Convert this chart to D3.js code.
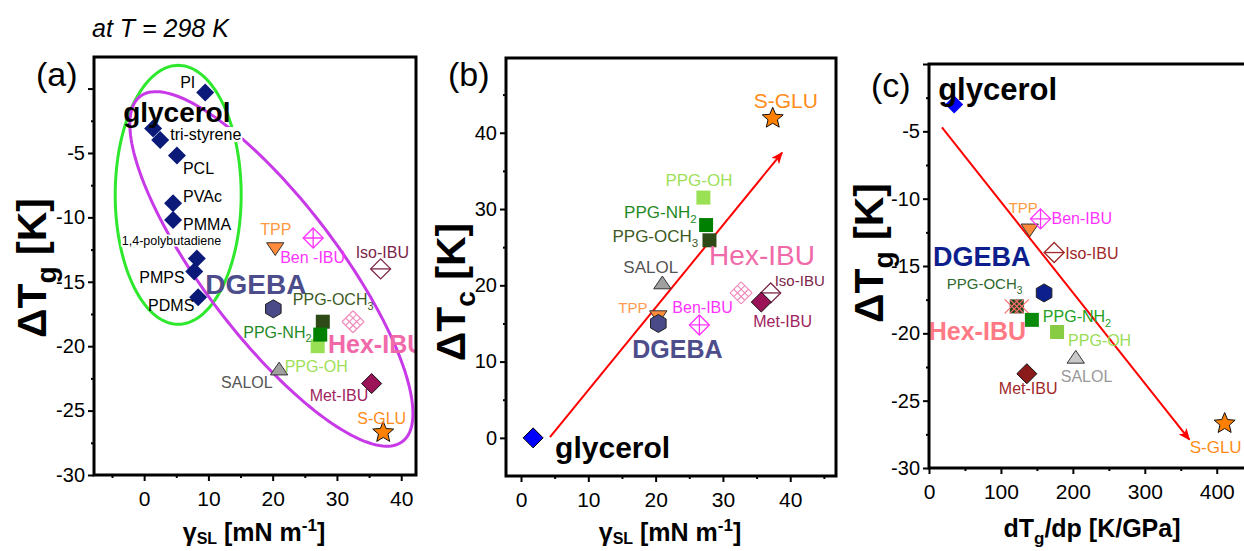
<!DOCTYPE html>
<html><head><meta charset="utf-8">
<script src="https://cdn.jsdelivr.net/npm/d3@7"></script>
<style>body{margin:0;background:#fff}svg{display:block}</style>
</head><body>
<svg id="c" width="1244" height="551"></svg>
<script>
// ---------------- DATA ----------------
// Panel (a): polymers (navy diamonds)
const polymerNames   = ["PI","glycerol","tri-styrene","PCL","PVAc","PMMA","1,4-polybutadiene","PMPS","PDMS"];
const polymerGammaSL = [9.5, 1.4, 2.5, 5.1, 4.5, 4.5, 8.2, 7.8, 8.4];
const polymerDeltaTg = [-0.3, -3.1, -4.0, -5.2, -8.9, -10.2, -13.2, -14.2, -16.2];

// Panel (a): low-molecular compounds
const compoundNames   = ["TPP","Ben-IBU","Iso-IBU","DGEBA","PPG-OCH3","PPG-OH","PPG-NH2","Hex-IBU","SALOL","Met-IBU","S-GLU"];
const compoundGammaSL = [20.4, 26.3, 36.8, 20.1, 27.8, 27.0, 27.4, 32.5, 21.0, 35.4, 37.2];
const compoundDeltaTg = [-12.3, -11.6, -14.0, -17.1, -18.1, -20.0, -19.1, -18.1, -21.9, -22.9, -26.7];

// Panel (b)
const namesB    = ["glycerol","TPP","DGEBA","SALOL","Ben-IBU","PPG-OH","PPG-NH2","PPG-OCH3","Hex-IBU","Iso-IBU","Met-IBU","S-GLU"];
const gammaSL_B = [1.8, 20.4, 20.4, 21.0, 26.5, 27.1, 27.5, 28.0, 32.7, 37.1, 35.7, 37.4];
const deltaTc_B = [0.0, 16.1, 15.0, 20.1, 14.8, 31.5, 27.9, 25.9, 19.0, 19.0, 17.8, 41.9];

// Panel (c)
const namesC    = ["glycerol","TPP","Ben-IBU","Iso-IBU","DGEBA","PPG-OCH3","Hex-IBU","PPG-NH2","PPG-OH","SALOL","Met-IBU","S-GLU"];
const dTgdp_C   = [35, 140, 155, 174, 160, 122, 122, 143, 178, 204, 136, 411];
const deltaTg_C = [-3.0, -12.2, -11.5, -14.0, -17.0, -18.0, -18.0, -19.0, -19.9, -21.9, -23.0, -26.7];

// Trend arrows (data units: [x0,y0,x1,y1])
const arrowB = [4.3, 0.1, 38.8, 37.4];
const arrowC = [18, -4.7, 362, -27.9];

// Ellipses in panel (a): centre, first and second semi-axis vectors (data units)
const ellipseGreen   = [5.3, -8.25, 9.8, 0, 0, 10.05];
const ellipseMagenta = [19.8, -14.0, 20.4, -13.4, -8.3, -3.14];

// Ticks
const ticksA_x = [0,10,20,30,40],            minorA_x = [-5,5,15,25,35];
const ticksA_y = [-30,-25,-20,-15,-10,-5,0], minorA_y = [-27.5,-22.5,-17.5,-12.5,-7.5,-2.5];
const ticksB_x = [0,10,20,30,40],            minorB_x = [5,15,25,35,45];
const ticksB_y = [0,10,20,30,40],            minorB_y = [5,15,25,35,45];
const ticksC_x = [0,100,200,300,400],        minorC_x = [50,150,250,350];
const ticksC_y = [-30,-25,-20,-15,-10,-5,0], minorC_y = [-27.5,-22.5,-17.5,-12.5,-7.5,-2.5];

// ---------------- STYLE ----------------
const FONT = '"Liberation Sans", Arial, Helvetica, sans-serif';
const svg = d3.select("#c");
svg.append("defs").append("marker").attr("id","arr")
  .attr("viewBox","0 0 12 10").attr("refX",11).attr("refY",5)
  .attr("markerWidth",13).attr("markerHeight",10).attr("markerUnits","userSpaceOnUse")
  .attr("orient","auto")
  .append("path").attr("d","M0,0L12,5L0,10L3,5Z").attr("fill","#ff0000");

const navy = "#0b1a78";
const subParts = {"PPG-OCH3":["PPG-OCH","3"], "PPG-NH2":["PPG-NH","2"]};

const markerA = {
  "TPP":{shape:"triDown",r:10,fill:"#ff8c3a",stroke:"#333"},
  "Ben-IBU":{shape:"diamondPlus",r:10,stroke:"#ff33ff"},
  "Iso-IBU":{shape:"diamondLine",r:10,stroke:"#7b2648"},
  "DGEBA":{shape:"hexagon",r:9,fill:"#4a4a88",stroke:"#222"},
  "PPG-OCH3":{shape:"square",r:7,fill:"#2e4a17"},
  "PPG-NH2":{shape:"square",r:7,fill:"#008000"},
  "PPG-OH":{shape:"square",r:7,fill:"#99e055"},
  "Hex-IBU":{shape:"hatch",r:11,stroke:"#f28cbc"},
  "SALOL":{shape:"triUp",r:10,fill:"#a0a0a0",stroke:"#333"},
  "Met-IBU":{shape:"diamond",r:10,fill:"#9b1458",stroke:"#111"},
  "S-GLU":{shape:"star",r:11,fill:"#ff8000",stroke:"#111"},
  "glycerol":{shape:"diamond",r:10,fill:"#0000ff",stroke:"#000"}
};
const markerC = Object.assign({}, markerA, {
  "DGEBA":{shape:"hexagon",r:9,fill:"#0d1f8c",stroke:"#222"},
  "Met-IBU":{shape:"diamond",r:10,fill:"#8b1a1a",stroke:"#111"},
  "Iso-IBU":{shape:"diamondLine",r:10,stroke:"#a02828"},
  "PPG-OCH3":{shape:"square",r:7,fill:"#1f4a1f"},
  "PPG-NH2":{shape:"square",r:7,fill:"#0a8a0a"},
  "PPG-OH":{shape:"square",r:7,fill:"#88cc44"},
  "Hex-IBU":{shape:"hatchX",r:10,stroke:"#ff6a6a"},
  "SALOL":{shape:"triUp",r:10,fill:"#c8c8c8",stroke:"#333"},
  "glycerol":{shape:"diamond",r:9,fill:"#0000ff",stroke:"none"}
});

// Label layouts: [dx, dy, size, colour, bold, text, whiteBackground]
const labelA = {
  "PI":[-25,-4,16,"#000"], "glycerol":[-30,-6,28,"#000",true],
  "tri-styrene":[10,0,16,"#000",false,null,true], "PCL":[6,18,16,"#000"],
  "PVAc":[10,-1,16,"#000"], "PMMA":[10,10,16,"#000"],
  "1,4-polybutadiene":[-75,-14,12.5,"#000",false,null,true],
  "PMPS":[-55,12,16,"#000"], "PDMS":[-50,14,16,"#000"],
  "TPP":[-15,-12,16,"#ff9940"], "Ben-IBU":[-33,25,16,"#ff33ff",false,"Ben -IBU"],
  "Iso-IBU":[-25,-11,16,"#7b2648"], "DGEBA":[-68,-15,28,"#4d4d8c",true],
  "PPG-OCH3":[-30,-17,16,"#3d5a1f"], "PPG-NH2":[-77,3,16,"#1f8a1f"],
  "PPG-OH":[-33,26,16,"#9ee05a"], "Hex-IBU":[-25,31,25,"#f06aaa",true],
  "SALOL":[-58,17,16,"#555"], "Met-IBU":[-62,17,16,"#a0245e"], "S-GLU":[-26,-8,16,"#ff8c1a"]
};
const labelB = {
  "glycerol":[22,20,30,"#000",true], "S-GLU":[-19,-10,21,"#ff8c1a"],
  "PPG-OH":[-38,-12,17,"#9ee05a"], "PPG-NH2":[-82,-7,17,"#1f8a1f"],
  "PPG-OCH3":[-97,2,17,"#3d5a1f"], "SALOL":[-39,-12,17,"#555"],
  "TPP":[-40,-2,15,"#ff9a50"], "DGEBA":[-26,35,25,"#4d4d8c",true],
  "Ben-IBU":[-27,-12,16,"#ff33ff"], "Hex-IBU":[-32,-28,28,"#f06aaa"],
  "Iso-IBU":[4,-7,15,"#7b2648"], "Met-IBU":[-8,25,16,"#a0245e"]
};
const labelC = {
  "glycerol":[-16,-4,31,"#000",true], "TPP":[-21,-15,15,"#ff9940"],
  "Ben-IBU":[11,5,16,"#ff33ff"], "Iso-IBU":[11,6,16,"#a02828"],
  "DGEBA":[-111,-27,27,"#0d1f8c",true], "PPG-OCH3":[-70,-17,15,"#2f6a2f"],
  "Hex-IBU":[-88,34,25,"#ff7a85",true], "PPG-NH2":[11,2,16,"#22a022"],
  "PPG-OH":[11,14,16,"#99dd55"], "SALOL":[-15,23,16,"#999"],
  "Met-IBU":[-28,20,16,"#a02828"], "S-GLU":[-35,29,17,"#ff8c1a"]
};

// ---------------- HELPERS ----------------
function drawMarker(g, cx, cy, st) {
  const r = st.r;
  const dia = `M${cx},${cy-r}L${cx+r},${cy}L${cx},${cy+r}L${cx-r},${cy}Z`;
  const add = (d, fill, stroke, sw) => g.append("path").attr("d", d)
      .attr("fill", fill).attr("stroke", stroke || "none").attr("stroke-width", sw || 1)
      .attr("stroke-linejoin","miter");
  switch (st.shape) {
    case "diamond": add(dia, st.fill, st.stroke); break;
    case "square": add(`M${cx-r},${cy-r}h${2*r}v${2*r}h${-2*r}Z`, st.fill); break;
    case "hexagon": {
      const p = d3.range(6).map(k => { const a = -Math.PI/2 + k*Math.PI/3; return [cx + r*Math.cos(a), cy + r*Math.sin(a)]; });
      add("M" + p.join("L") + "Z", st.fill, st.stroke); break; }
    case "triDown": case "triUp": {
      const s = st.shape === "triUp" ? -1 : 1;
      const p = [0, 2, 4].map(k => { const a = s*Math.PI/2 + k*2*Math.PI/3; return [cx + r*Math.cos(a), cy + r*Math.sin(a)*0.85]; });
      add("M" + p.join("L") + "Z", st.fill, st.stroke); break; }
    case "star": {
      const p = d3.range(10).map(k => { const rr = k % 2 ? r*0.45 : r; const a = -Math.PI/2 + k*Math.PI/5; return [cx + rr*Math.cos(a), cy + rr*Math.sin(a)]; });
      add("M" + p.join("L") + "Z", st.fill, st.stroke); break; }
    case "diamondPlus":
      add(dia, "none", st.stroke, 1.3);
      add(`M${cx-r},${cy}H${cx+r}M${cx},${cy-r}V${cy+r}`, "none", st.stroke, 1.3); break;
    case "diamondLine":
      add(dia, "#fff", st.stroke, 1.3);
      add(`M${cx-r},${cy}H${cx+r}`, "none", st.stroke, 1.3); break;
    case "hatch": {
      let d = "";
      for (const f of [0, 1/3, 2/3, 1]) {
        d += `M${cx - r + f*r},${cy - f*r}L${cx + f*r},${cy + r - f*r}`;
        d += `M${cx + r - f*r},${cy - f*r}L${cx - f*r},${cy + r - f*r}`;
      }
      add(d, "none", st.stroke, 1.2); break; }
    case "hatchX": {
      let d = "";
      for (const o of [-r*0.5, 0, r*0.5]) {
        d += `M${cx - r*0.7 + o},${cy - r*0.7}L${cx + r*0.7 + o},${cy + r*0.7}`;
        d += `M${cx + r*0.7 + o},${cy - r*0.7}L${cx - r*0.7 + o},${cy + r*0.7}`;
      }
      add(d, "none", st.stroke, 1.2); break; }
  }
}

function drawLabel(g, x, y, name, L) {
  const [dx, dy, size, color, bold, text, bg] = L;
  const t = g.append("text").attr("x", x + dx).attr("y", y + dy)
    .attr("font-family", FONT).attr("font-size", size)
    .attr("font-weight", bold ? "bold" : "normal").attr("fill", color);
  const parts = subParts[name];
  if (parts) {
    t.append("tspan").text(parts[0]);
    t.append("tspan").attr("dy", size*0.3).attr("font-size", size*0.68).text(parts[1]);
  } else t.text(text || name);
  if (bg) {
    const b = t.node().getBBox();
    g.insert("rect", () => t.node()).attr("x", b.x - 1).attr("y", b.y + 1)
      .attr("width", b.width + 2).attr("height", b.height - 2).attr("fill", "#fff");
  }
}

function makePanel(P) {
  const x = d3.scaleLinear().domain(P.xDom).range([P.left, P.right]);
  const y = d3.scaleLinear().domain(P.yDom).range([P.bottom, P.top]);
  const g = svg.append("g");
  const clipId = "clip" + P.id;
  svg.select("defs").append("clipPath").attr("id", clipId).append("rect")
    .attr("x", P.left).attr("y", P.top).attr("width", P.right - P.left).attr("height", P.bottom - P.top);
  const fmt = d => (d === 0 && P.hideZero) ? "" : String(d);
  const axisStyle = (sel, fs) => {
    sel.select(".domain").remove();
    sel.selectAll("line").attr("stroke", "#000").attr("stroke-width", 2);
    sel.selectAll("text").attr("font-family", FONT).attr("font-size", fs).attr("fill", "#000");
  };
  g.append("g").attr("transform", `translate(0,${P.bottom})`)
    .call(d3.axisBottom(x).tickValues(P.xt).tickSize(6).tickPadding(10).tickFormat(String))
    .call(s => axisStyle(s, 21));
  g.append("g").attr("transform", `translate(0,${P.bottom})`)
    .call(d3.axisBottom(x).tickValues(P.xm).tickSize(3).tickFormat(""))
    .call(s => axisStyle(s, 0));
  g.append("g").attr("transform", `translate(${P.left},0)`)
    .call(d3.axisLeft(y).tickValues(P.yt).tickSize(6).tickPadding(3).tickFormat(fmt))
    .call(s => axisStyle(s, 20));
  g.append("g").attr("transform", `translate(${P.left},0)`)
    .call(d3.axisLeft(y).tickValues(P.ym).tickSize(3).tickFormat(""))
    .call(s => axisStyle(s, 0));
  const plot = g.append("g");
  const labels = g.append("g");
  if (P.clip) labels.attr("clip-path", `url(#${clipId})`);
  g.append("rect").attr("x", P.left).attr("y", P.top)
    .attr("width", P.right - P.left).attr("height", P.bottom - P.top)
    .attr("fill", "none").attr("stroke", "#000").attr("stroke-width", 3);
  return {x, y, g, plot, labels};
}

function ellipse(p, e, color) {
  const pts = d3.range(0, 361, 2).map(t => {
    const a = t*Math.PI/180;
    return [p.x(e[0] + e[2]*Math.cos(a) + e[4]*Math.sin(a)), p.y(e[1] + e[3]*Math.cos(a) + e[5]*Math.sin(a))];
  });
  p.plot.append("path").attr("d", d3.line()(pts)).attr("fill", "none")
    .attr("stroke", color).attr("stroke-width", 3);
}

// ---------------- PANEL (a) ----------------
const pa = makePanel({id:"a", left:94, right:416, top:57, bottom:475,
  xDom:[-7.8, 42.3], yDom:[-30, 2.45], xt:ticksA_x, xm:minorA_x, yt:ticksA_y, ym:minorA_y, hideZero:true, clip:true});
ellipse(pa, ellipseGreen, "#2ee82e");
ellipse(pa, ellipseMagenta, "#c83ae8");
polymerNames.forEach((n, i) => drawMarker(pa.plot, pa.x(polymerGammaSL[i]), pa.y(polymerDeltaTg[i]), {shape:"diamond", r:9, fill:navy}));
compoundNames.forEach((n, i) => drawMarker(pa.plot, pa.x(compoundGammaSL[i]), pa.y(compoundDeltaTg[i]), markerA[n]));
polymerNames.forEach((n, i) => drawLabel(pa.labels, pa.x(polymerGammaSL[i]), pa.y(polymerDeltaTg[i]), n, labelA[n]));
compoundNames.forEach((n, i) => drawLabel(pa.labels, pa.x(compoundGammaSL[i]), pa.y(compoundDeltaTg[i]), n, labelA[n]));

// ---------------- PANEL (b) ----------------
const pb = makePanel({id:"b", left:506, right:836, top:58, bottom:476,
  xDom:[-2.23, 46.8], yDom:[-5, 49.8], xt:ticksB_x, xm:minorB_x, yt:ticksB_y, ym:minorB_y});
pb.plot.append("line").attr("x1", pb.x(arrowB[0])).attr("y1", pb.y(arrowB[1]))
  .attr("x2", pb.x(arrowB[2])).attr("y2", pb.y(arrowB[3]))
  .attr("stroke", "#ff0000").attr("stroke-width", 2).attr("marker-end", "url(#arr)");
namesB.forEach((n, i) => drawMarker(pb.plot, pb.x(gammaSL_B[i]), pb.y(deltaTc_B[i]), markerA[n]));
namesB.forEach((n, i) => drawLabel(pb.labels, pb.x(gammaSL_B[i]), pb.y(deltaTc_B[i]), n, labelB[n]));

// ---------------- PANEL (c) ----------------
const pc = makePanel({id:"c", left:929, right:1252, top:64, bottom:468,
  xDom:[0, 449], yDom:[-30, 0], xt:ticksC_x, xm:minorC_x, yt:ticksC_y, ym:minorC_y, hideZero:true});
pc.plot.append("line").attr("x1", pc.x(arrowC[0])).attr("y1", pc.y(arrowC[1]))
  .attr("x2", pc.x(arrowC[2])).attr("y2", pc.y(arrowC[3]))
  .attr("stroke", "#ff0000").attr("stroke-width", 2).attr("marker-end", "url(#arr)");
namesC.forEach((n, i) => drawMarker(pc.plot, pc.x(dTgdp_C[i]), pc.y(deltaTg_C[i]), markerC[n]));
namesC.forEach((n, i) => drawLabel(pc.labels, pc.x(dTgdp_C[i]), pc.y(deltaTg_C[i]), n, labelC[n]));

// ---------------- TITLES ----------------
function txt(x, y, size, opts) {
  return svg.append("text").attr("x", x).attr("y", y).attr("font-family", FONT)
    .attr("font-size", size).attr("fill", "#000")
    .attr("font-weight", opts && opts.bold ? "bold" : "normal")
    .attr("font-style", opts && opts.italic ? "italic" : "normal")
    .attr("text-anchor", opts && opts.anchor || "start");
}
txt(92, 37, 25, {italic:true}).text("at T = 298 K");
txt(36, 86, 34).text("(a)");
txt(448, 86, 34).text("(b)");
txt(871, 97, 34).text("(c)");

function yTitle(cx, cy, sub) {
  const t = svg.append("text").attr("transform", `translate(${cx},${cy}) rotate(-90)`)
    .attr("text-anchor", "middle").attr("font-family", FONT).attr("font-size", 41)
    .attr("font-weight", "bold").attr("fill", "#000");
  t.append("tspan").text("\u0394T");
  t.append("tspan").attr("dy", 10).attr("font-size", 28).text(sub);
  t.append("tspan").attr("dy", -10).text(" [K]");
}
yTitle(46, 268, "g");
yTitle(465, 292, "c");
yTitle(883, 253, "g");

function xTitleGamma(cx, cy) {
  const t = svg.append("text").attr("x", cx).attr("y", cy).attr("text-anchor", "middle")
    .attr("font-family", FONT).attr("font-size", 25).attr("font-weight", "bold").attr("fill", "#000");
  t.append("tspan").text("\u03B3");
  t.append("tspan").attr("dy", 3).attr("font-size", 16).text("SL");
  t.append("tspan").attr("dy", -3).text(" [mN m");
  t.append("tspan").attr("dy", -10).attr("font-size", 17).text("-1");
  t.append("tspan").attr("dy", 10).text("]");
}
xTitleGamma(254, 541);
xTitleGamma(670, 541);
{
  const t = svg.append("text").attr("x", 1092).attr("y", 537).attr("text-anchor", "middle")
    .attr("font-family", FONT).attr("font-size", 25).attr("font-weight", "bold").attr("fill", "#000");
  t.append("tspan").text("dT");
  t.append("tspan").attr("dy", 7).attr("font-size", 17).text("g");
  t.append("tspan").attr("dy", -7).text("/dp [K/GPa]");
}
</script>
</body></html>
